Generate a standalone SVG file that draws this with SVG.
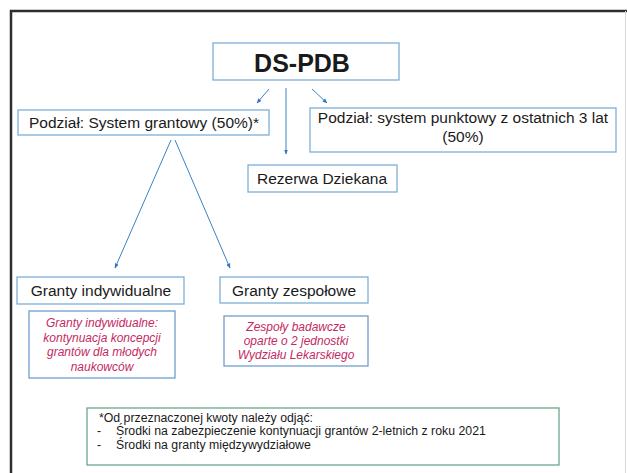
<svg xmlns="http://www.w3.org/2000/svg" width="627" height="473" viewBox="0 0 627 473">
  <defs>
    <style>
      .box { fill: #ffffff; stroke: #7eafd8; stroke-width: 1.3; }
      .note { fill: #ffffff; stroke: #6f9fcc; stroke-width: 1.3; }
      .green { fill: #ffffff; stroke: #6aa88a; stroke-width: 1.3; }
      .lbl { font-family: "Liberation Sans", Arial, sans-serif; font-size: 15.5px; fill: #1a1a1a; text-anchor: middle; }
      .title { font-family: "Liberation Sans", Arial, sans-serif; font-size: 25px; font-weight: bold; fill: #1a1a1a; text-anchor: middle; }
      .pink { font-family: "Liberation Sans", Arial, sans-serif; font-size: 12px; font-style: italic; fill: #c42a62; text-anchor: middle; }
      .foot { font-family: "Liberation Sans", Arial, sans-serif; font-size: 12.3px; fill: #1a1a1a; }
      .conn { stroke: #3b82c4; stroke-width: 1; fill: none; marker-end: url(#ah); }
    </style>
    <marker id="ah" viewBox="0 0 10 10" refX="9" refY="5" markerWidth="5" markerHeight="5" orient="auto" markerUnits="userSpaceOnUse">
      <path d="M0,1 L10,5 L0,9 z" fill="#2f78c0"/>
    </marker>
  </defs>
  <rect width="627" height="473" fill="#ffffff"/>
  <path d="M11,473 V11 H627" fill="none" stroke="#2e2e2e" stroke-width="2.5"/>
  <line x1="625.5" y1="11" x2="625.5" y2="473" stroke="#d8d8d8" stroke-width="1"/>

  <g id="connectors">
    <line class="conn" x1="269" y1="89" x2="257" y2="103"/>
    <line class="conn" x1="286" y1="88" x2="286" y2="154"/>
    <line class="conn" x1="312" y1="89" x2="327" y2="103"/>
    <line class="conn" x1="171" y1="140" x2="115" y2="268"/>
    <line class="conn" x1="175" y1="140" x2="230" y2="268"/>
  </g>

  <g id="ds-pdb">
    <rect class="box" x="213" y="43" width="186" height="37"/>
    <text class="title" x="302" y="72">DS-PDB</text>
  </g>

  <g id="system-grantowy">
    <rect class="box" x="18" y="110" width="251" height="25"/>
    <text class="lbl" x="144" y="128">Podział: System grantowy (50%)*</text>
  </g>

  <g id="system-punktowy">
    <rect class="box" x="310" y="108" width="306" height="44"/>
    <text class="lbl" x="463" y="123">Podział: system punktowy z ostatnich 3 lat</text>
    <text class="lbl" x="463" y="142">(50%)</text>
  </g>

  <g id="rezerwa">
    <rect class="box" x="248" y="165" width="149" height="27"/>
    <text class="lbl" x="322" y="184">Rezerwa Dziekana</text>
  </g>

  <g id="granty-indywidualne">
    <rect class="box" x="17" y="277" width="167" height="27"/>
    <text class="lbl" x="101" y="296">Granty indywidualne</text>
  </g>

  <g id="granty-zespolowe">
    <rect class="box" x="220" y="277" width="148" height="26"/>
    <text class="lbl" x="294" y="296">Granty zespołowe</text>
  </g>

  <g id="opis-indywidualne">
    <rect class="note" x="29" y="311" width="146" height="67"/>
    <text class="pink" x="102" y="327">Granty indywidualne:</text>
    <text class="pink" x="102" y="341.5">kontynuacja koncepcji</text>
    <text class="pink" x="102" y="356">grantów dla młodych</text>
    <text class="pink" x="102" y="370.5">naukowców</text>
  </g>

  <g id="opis-zespolowe">
    <rect class="note" x="224" y="316" width="144" height="50"/>
    <text class="pink" x="296" y="331">Zespoły badawcze</text>
    <text class="pink" x="296" y="345">oparte o 2 jednostki</text>
    <text class="pink" x="296" y="359">Wydziału Lekarskiego</text>
  </g>

  <g id="przypis">
    <rect class="green" x="87" y="408" width="472" height="57"/>
    <text class="foot" x="99" y="421.5">*Od przeznaczonej kwoty należy odjąć:</text>
    <text class="foot" x="97" y="435">-</text>
    <text class="foot" x="116" y="435">Środki na zabezpieczenie kontynuacji grantów 2-letnich z roku 2021</text>
    <text class="foot" x="97" y="448.5">-</text>
    <text class="foot" x="116" y="448.5">Środki na granty międzywydziałowe</text>
  </g>
</svg>
